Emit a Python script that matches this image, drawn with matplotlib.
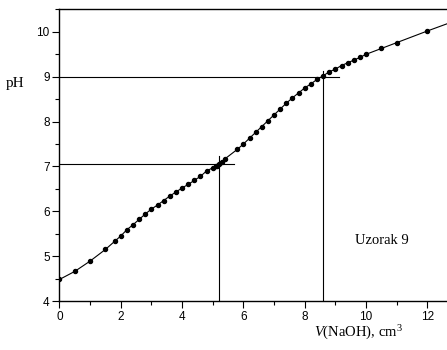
import matplotlib
matplotlib.use("Agg")
import matplotlib.pyplot as plt
from matplotlib.ticker import MultipleLocator

plt.rcParams["mathtext.fontset"] = "custom"
plt.rcParams["mathtext.it"] = "Liberation Serif:italic"
plt.rcParams["mathtext.rm"] = "Liberation Serif"

# titration data
volume = [0, 0.5, 1.0, 1.5, 1.8, 2.0, 2.2, 2.4, 2.6, 2.8, 3.0, 3.2, 3.4, 3.6,
          3.8, 4.0, 4.2, 4.4, 4.6, 4.8, 5.0, 5.1, 5.15, 5.2, 5.3, 5.4, 5.8,
          6.0, 6.2, 6.4, 6.6, 6.8, 7.0, 7.2, 7.4, 7.6, 7.8, 8.0, 8.2, 8.4,
          8.6, 8.8, 9.0, 9.2, 9.4, 9.6, 9.8, 10.0, 10.5, 11.0, 12.0, 13.0]
ph = [4.48, 4.66, 4.89, 5.15, 5.33, 5.45, 5.59, 5.70, 5.82, 5.94, 6.05, 6.14,
      6.24, 6.34, 6.43, 6.52, 6.60, 6.69, 6.78, 6.90, 6.97, 7.00, 7.02, 7.05,
      7.09, 7.17, 7.38, 7.50, 7.63, 7.76, 7.89, 8.02, 8.15, 8.28, 8.41, 8.53,
      8.64, 8.75, 8.84, 8.94, 9.02, 9.11, 9.17, 9.25, 9.31, 9.37, 9.43, 9.50,
      9.63, 9.76, 10.02, 10.27]

# equivalence point guide lines
eq_v = [5.2, 8.6]
eq_ph = [7.05, 9.0]
h_end = [5.7, 9.12]
v_top = [7.23, 9.13]

fig = plt.figure(figsize=(4.47, 3.5), dpi=100)
ax = fig.add_axes([0.133, 0.14, 0.867, 0.833])

ax.plot(volume, ph, color="black", lw=0.8, marker="o", ms=2.9)

for v, p, he, vt in zip(eq_v, eq_ph, h_end, v_top):
    ax.plot([0, he], [p, p], color="black", lw=0.8)
    ax.plot([v, v], [4, vt], color="black", lw=0.8)

ax.set_xlim(0, 12.64)
ax.set_ylim(4, 10.5)
ax.xaxis.set_major_locator(MultipleLocator(2))
ax.xaxis.set_minor_locator(MultipleLocator(1))
ax.yaxis.set_major_locator(MultipleLocator(1))
ax.yaxis.set_minor_locator(MultipleLocator(0.5))
ax.tick_params(which="major", direction="out", length=5, width=0.8,
               labelsize=8.5, pad=2)
ax.tick_params(which="minor", direction="out", length=3, width=0.8)
for lbl in ax.get_xticklabels() + ax.get_yticklabels():
    lbl.set_family("Liberation Sans")
ax.spines["right"].set_visible(False)
for s in ["left", "bottom", "top"]:
    ax.spines[s].set_linewidth(1.0)

serif = "Liberation Serif"
fig.text(6 / 447, 1 - 83 / 350, "pH", family=serif, fontsize=11,
         va="center", ha="left")
fig.text(358 / 447, 1 - 333 / 350, r"$V$(NaOH), cm$^3$", family=serif,
         fontsize=10.5, va="center", ha="center")
fig.text(382 / 447, 1 - 240 / 350, "Uzorak 9", family=serif, fontsize=10.5,
         va="center", ha="center")

fig.savefig("out.png", dpi=100)
